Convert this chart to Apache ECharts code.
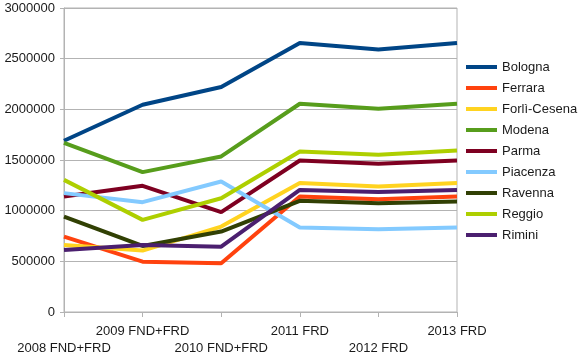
<!DOCTYPE html>
<html><head><meta charset="utf-8">
<script src="https://cdn.jsdelivr.net/npm/echarts@6/dist/echarts.min.js"></script>
<style>html,body{margin:0;padding:0;background:#fff;}#c{width:584px;height:363px;}</style>
</head><body><div id="c"></div>
<script>
const categories = ['2008 FND+FRD','2009 FND+FRD','2010 FND+FRD','2011 FRD','2012 FRD','2013 FRD'];
const bologna   = [1690000, 2045000, 2220000, 2655000, 2590000, 2655000];
const ferrara   = [744000, 497000, 481000, 1139000, 1113000, 1139000];
const forli     = [662000, 606000, 843000, 1272000, 1238000, 1272000];
const modena    = [1670000, 1380000, 1535000, 2055000, 2006000, 2055000];
const parma     = [1139000, 1245000, 985000, 1495000, 1462000, 1495000];
const piacenza  = [1173000, 1084000, 1288000, 833000, 817000, 833000];
const ravenna   = [942000, 652000, 794000, 1097000, 1074000, 1090000];
const reggio    = [1304000, 909000, 1123000, 1584000, 1551000, 1594000];
const rimini    = [613000, 662000, 645000, 1205000, 1183000, 1205000];
const seriesNames = ['Bologna','Ferrara','Forlì-Cesena','Modena','Parma','Piacenza','Ravenna','Reggio','Rimini'];
const seriesData = [bologna, ferrara, forli, modena, parma, piacenza, ravenna, reggio, rimini];
const colors = ['#004586','#ff420e','#ffd320','#579d1c','#7e0021','#83caff','#314004','#aecf00','#4b1f6f'];

const chart = echarts.init(document.getElementById('c'));
const font = 'Liberation Sans, Arial, sans-serif';
chart.setOption({
  animation: false,
  color: colors,
  textStyle: {fontFamily: font},
  grid: {left: 64, right: 127, top: 8, bottom: 51, show: true, borderColor: '#b3b3b3', borderWidth: 1,
         containLabel: false, outerBoundsMode: 'none'},
  legend: {
    orient: 'vertical', left: 466, top: 60, padding: 0, icon: 'rect', itemWidth: 31, itemHeight: 4, itemGap: 7,
    textStyle: {fontSize: 13, color: '#1a1a1a', fontFamily: font, lineHeight: 14},
    data: seriesNames
  },
  xAxis: {
    type: 'category', data: categories, boundaryGap: false,
    axisLine: {lineStyle: {color: '#b3b3b3'}},
    axisTick: {show: true, length: 5, lineStyle: {color: '#b3b3b3'}},
    axisLabel: {interval: 0, margin: 11, fontSize: 13, color: '#1a1a1a', lineHeight: 17, fontFamily: font,
      formatter: (v, i) => (i % 2 === 0 ? '\n' + v : v)},
    splitLine: {show: false}
  },
  yAxis: {
    type: 'value', min: 0, max: 3000000, interval: 500000,
    axisLine: {show: true, lineStyle: {color: '#b3b3b3'}},
    axisTick: {show: true, length: 4, lineStyle: {color: '#b3b3b3'}},
    axisLabel: {fontSize: 13, color: '#1a1a1a', margin: 9, fontFamily: font, formatter: v => String(v)},
    splitLine: {lineStyle: {color: '#b3b3b3'}}
  },
  series: seriesNames.map((n, i) => ({
    name: n, type: 'line', data: seriesData[i], showSymbol: false, symbol: 'none',
    lineStyle: {width: 4, color: colors[i]}, itemStyle: {color: colors[i]}
  }))
});
</script></body></html>
